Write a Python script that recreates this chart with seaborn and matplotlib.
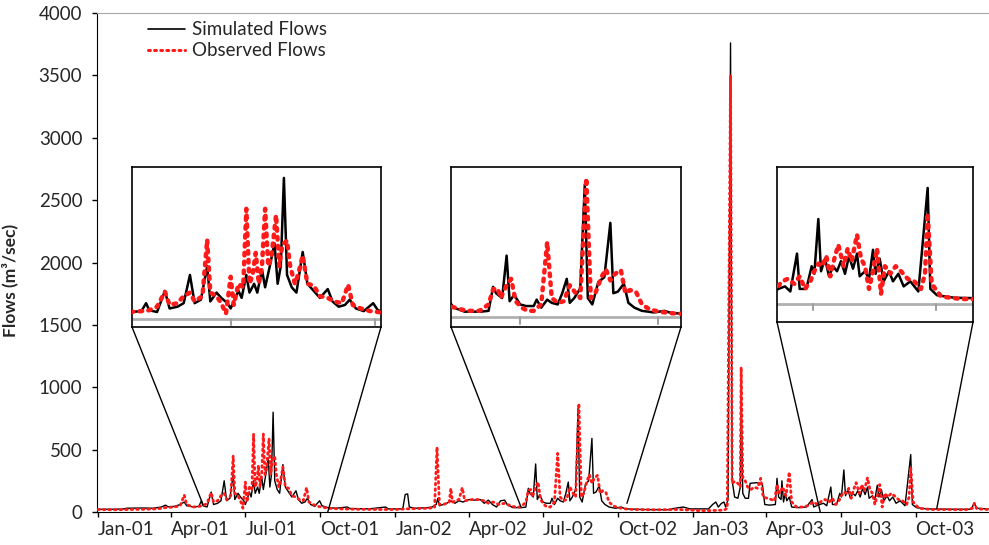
import matplotlib
matplotlib.use("Agg")
import matplotlib.pyplot as plt
import matplotlib.dates as mdates
from matplotlib.lines import Line2D
from matplotlib.patches import ConnectionPatch
import pandas as pd
import seaborn as sns

# ---- Simulated daily flows (m3/sec), sampled at the turning points ----
sim_dates = [
    "2001-01-01", "2001-01-20", "2001-02-01", "2001-02-05", "2001-02-25", "2001-03-10", "2001-03-20",
    "2001-03-25", "2001-03-28", "2001-04-05", "2001-04-12", "2001-04-17", "2001-04-20", "2001-04-28",
    "2001-05-05", "2001-05-08", "2001-05-10", "2001-05-15", "2001-05-20", "2001-05-23", "2001-05-28",
    "2001-06-01", "2001-06-05", "2001-06-08", "2001-06-12", "2001-06-16", "2001-06-18", "2001-06-22",
    "2001-06-25", "2001-06-29", "2001-07-01", "2001-07-03", "2001-07-06", "2001-07-08", "2001-07-11",
    "2001-07-13", "2001-07-16", "2001-07-18", "2001-07-21", "2001-07-23", "2001-07-26", "2001-07-29",
    "2001-07-31", "2001-08-02", "2001-08-04", "2001-08-06", "2001-08-09", "2001-08-12", "2001-08-16",
    "2001-08-19", "2001-08-23", "2001-08-27", "2001-09-01", "2001-09-04", "2001-09-08", "2001-09-12",
    "2001-09-15", "2001-09-19", "2001-09-24", "2001-09-30", "2001-10-03", "2001-10-10", "2001-10-20",
    "2001-11-03", "2001-11-06", "2001-11-30", "2001-12-20", "2001-12-23", "2001-12-31",
    "2002-01-10", "2002-01-13", "2002-01-16", "2002-01-18", "2002-01-25", "2002-02-10", "2002-02-15",
    "2002-02-20", "2002-02-22", "2002-02-24", "2002-03-05", "2002-03-10", "2002-03-15", "2002-03-20",
    "2002-03-25", "2002-04-01", "2002-04-08", "2002-04-15", "2002-04-20", "2002-04-25", "2002-04-30",
    "2002-05-05", "2002-05-10", "2002-05-15", "2002-05-18", "2002-05-25", "2002-06-05", "2002-06-10",
    "2002-06-13", "2002-06-15", "2002-06-19", "2002-06-22", "2002-06-24", "2002-06-27", "2002-07-01",
    "2002-07-05", "2002-07-10", "2002-07-12", "2002-07-15", "2002-07-19", "2002-07-22", "2002-07-26",
    "2002-07-29", "2002-08-01", "2002-08-03", "2002-08-06", "2002-08-10", "2002-08-13", "2002-08-15",
    "2002-08-18", "2002-08-22", "2002-08-26", "2002-08-30", "2002-09-01", "2002-09-04", "2002-09-08",
    "2002-09-11", "2002-09-15", "2002-09-20", "2002-09-28", "2002-10-05", "2002-10-10", "2002-11-01",
    "2002-12-01", "2002-12-10", "2002-12-20", "2002-12-28",
    "2003-01-05", "2003-01-20", "2003-01-25", "2003-01-29", "2003-02-01", "2003-02-05", "2003-02-08",
    "2003-02-10", "2003-02-13", "2003-02-16", "2003-02-18", "2003-02-21", "2003-02-25", "2003-02-28",
    "2003-03-01", "2003-03-03", "2003-03-06", "2003-03-10", "2003-03-12", "2003-03-20", "2003-03-27",
    "2003-03-30", "2003-04-05", "2003-04-12", "2003-04-14", "2003-04-16", "2003-04-19", "2003-04-20",
    "2003-04-22", "2003-04-24", "2003-04-26", "2003-04-29", "2003-05-02", "2003-05-10", "2003-05-20",
    "2003-05-27", "2003-05-29", "2003-06-05", "2003-06-10", "2003-06-14", "2003-06-19", "2003-06-21",
    "2003-06-26", "2003-06-30", "2003-07-02", "2003-07-05", "2003-07-07", "2003-07-10", "2003-07-13",
    "2003-07-16", "2003-07-19", "2003-07-22", "2003-07-25", "2003-07-28", "2003-07-31", "2003-08-03",
    "2003-08-05", "2003-08-09", "2003-08-12", "2003-08-15", "2003-08-17", "2003-08-20", "2003-08-23",
    "2003-08-27", "2003-08-30", "2003-09-03", "2003-09-07", "2003-09-12", "2003-09-18", "2003-09-25",
    "2003-09-27", "2003-10-02", "2003-10-15", "2003-11-15", "2003-12-08", "2003-12-12", "2003-12-15",
    "2003-12-29",
]
sim_flows = [
    22, 22, 24, 30, 32, 30, 40,
    55, 42, 45, 60, 80, 50, 40,
    45, 90, 50, 40, 160, 60, 70,
    90, 250, 90, 110, 300, 100, 150,
    120, 90, 60, 100, 160, 120, 250,
    150, 200, 150, 280, 180, 300, 430,
    200, 300, 800, 250, 180, 150, 380,
    200, 160, 120, 170, 100, 70, 80,
    110, 60, 45, 90, 50, 35, 30,
    40, 28, 25, 40, 25, 25,
    25, 140, 145, 40, 30, 35, 40,
    60, 110, 50, 70, 90, 70, 90,
    80, 100, 95, 100, 70, 95, 60,
    40, 90, 95, 60, 35, 35, 40,
    190, 150, 120, 385, 100, 140, 80,
    70, 70, 110, 60, 110, 90, 80,
    150, 240, 90, 120, 180, 830, 120,
    80, 220, 250, 590, 150, 160, 210,
    90, 60, 40, 30, 40, 25, 20,
    18, 30, 40, 25,
    25, 25, 60, 80, 40, 70, 80,
    40, 100, 3760, 250, 120, 110, 200,
    950, 150, 110, 110, 230, 235, 225,
    60, 55, 60, 270, 120, 100, 250,
    80, 150, 90, 120, 40, 35, 40,
    100, 40, 60, 70, 50, 200, 60,
    60, 150, 120, 337, 130, 180, 110,
    150, 130, 170, 120, 190, 140, 200,
    110, 130, 100, 215, 120, 180, 90,
    130, 90, 120, 70, 90, 50, 460,
    60, 35, 25, 22, 22, 72, 30,
    25,
]

# ---- Observed daily flows (m3/sec) ----
obs_dates = [
    "2001-01-01", "2001-01-20", "2001-02-10", "2001-03-01", "2001-03-15", "2001-03-25", "2001-04-05",
    "2001-04-12", "2001-04-17", "2001-04-20", "2001-04-28", "2001-05-05", "2001-05-10", "2001-05-15",
    "2001-05-20", "2001-05-23", "2001-05-28", "2001-06-01", "2001-06-05", "2001-06-08", "2001-06-13",
    "2001-06-16", "2001-06-18", "2001-06-22", "2001-06-25", "2001-06-28", "2001-07-01", "2001-07-03",
    "2001-07-06", "2001-07-09", "2001-07-11", "2001-07-13", "2001-07-15", "2001-07-17", "2001-07-19",
    "2001-07-21", "2001-07-23", "2001-07-25", "2001-07-27", "2001-07-30", "2001-08-01", "2001-08-03",
    "2001-08-06", "2001-08-08", "2001-08-11", "2001-08-13", "2001-08-16", "2001-08-19", "2001-08-23",
    "2001-08-27", "2001-09-01", "2001-09-05", "2001-09-10", "2001-09-14", "2001-09-17", "2001-09-22",
    "2001-09-28", "2001-10-03", "2001-10-10", "2001-10-25", "2001-11-15", "2001-12-15", "2001-12-31",
    "2002-01-15", "2002-02-10", "2002-02-18", "2002-02-21", "2002-02-24", "2002-03-01", "2002-03-08",
    "2002-03-10", "2002-03-12", "2002-03-20", "2002-03-24", "2002-03-27", "2002-04-05", "2002-04-12",
    "2002-04-20", "2002-04-25", "2002-05-01", "2002-05-08", "2002-05-15", "2002-05-22", "2002-05-28",
    "2002-06-04", "2002-06-10", "2002-06-13", "2002-06-16", "2002-06-18", "2002-06-22", "2002-06-25",
    "2002-06-28", "2002-07-02", "2002-07-06", "2002-07-10", "2002-07-15", "2002-07-19", "2002-07-22",
    "2002-07-26", "2002-07-30", "2002-08-03", "2002-08-07", "2002-08-10", "2002-08-14", "2002-08-17",
    "2002-08-20", "2002-08-24", "2002-08-27", "2002-08-30", "2002-09-02", "2002-09-06", "2002-09-09",
    "2002-09-12", "2002-09-16", "2002-09-20", "2002-09-25", "2002-10-01", "2002-10-10", "2002-10-20",
    "2002-11-15", "2002-12-15", "2002-12-31",
    "2003-01-10", "2003-01-25", "2003-02-08", "2003-02-12", "2003-02-16", "2003-02-18", "2003-02-21",
    "2003-02-25", "2003-02-28", "2003-03-01", "2003-03-03", "2003-03-06", "2003-03-09", "2003-03-13",
    "2003-03-17", "2003-03-21", "2003-03-25", "2003-03-28", "2003-04-02", "2003-04-07", "2003-04-11",
    "2003-04-14", "2003-04-17", "2003-04-21", "2003-04-25", "2003-04-29", "2003-05-02", "2003-05-08",
    "2003-05-15", "2003-05-22", "2003-05-28", "2003-06-03", "2003-06-08", "2003-06-12", "2003-06-17",
    "2003-06-21", "2003-06-25", "2003-06-29", "2003-07-02", "2003-07-05", "2003-07-08", "2003-07-11",
    "2003-07-14", "2003-07-17", "2003-07-20", "2003-07-24", "2003-07-27", "2003-07-30", "2003-08-03",
    "2003-08-06", "2003-08-09", "2003-08-12", "2003-08-15", "2003-08-18", "2003-08-21", "2003-08-24",
    "2003-08-28", "2003-09-01", "2003-09-05", "2003-09-10", "2003-09-15", "2003-09-20", "2003-09-23",
    "2003-09-25", "2003-09-28", "2003-10-05", "2003-10-20", "2003-11-10", "2003-12-01", "2003-12-10",
    "2003-12-12", "2003-12-15", "2003-12-29",
]
obs_flows = [
    20, 18, 20, 22, 25, 35, 40,
    50, 136, 60, 40, 45, 50, 70,
    155, 80, 90, 130, 150, 100, 130,
    450, 150, 130, 90, 30, 240, 80,
    200, 180, 625, 200, 250, 375, 200,
    300, 625, 300, 350, 590, 300, 420,
    445, 300, 200, 250, 360, 200, 190,
    130, 120, 100, 90, 195, 80, 60,
    45, 40, 30, 25, 22, 20, 20,
    25, 30, 35, 520, 60, 60, 80,
    190, 80, 100, 195, 90, 100, 100,
    90, 70, 80, 60, 70, 50, 40,
    40, 80, 175, 180, 120, 200, 240,
    100, 60, 40, 40, 80, 470, 120,
    90, 100, 200, 150, 120, 870, 120,
    150, 250, 300, 230, 270, 295, 150,
    170, 160, 80, 50, 35, 25, 20,
    18, 20, 15,
    10, 12, 15, 30, 3500, 230, 245,
    230, 200, 1160, 280, 250, 200, 180,
    200, 190, 270, 120, 110, 100, 90,
    220, 150, 200, 130, 320, 80, 40,
    40, 50, 80, 60, 90, 100, 80,
    110, 60, 90, 130, 160, 150, 190,
    110, 180, 235, 150, 220, 170, 275,
    180, 150, 60, 130, 220, 40, 150,
    120, 150, 130, 100, 90, 60, 120,
    360, 80, 30, 20, 20, 18, 30,
    70, 25, 20,
]

y_ticks = [0, 500, 1000, 1500, 2000, 2500, 3000, 3500, 4000]
series_names = ["Simulated Flows", "Observed Flows"]

# zoomed windows: (start, end, y-limits, connector start, connector end)
zoom_windows = [
    ("2001-04-29", "2001-10-05", (-45, 862), ("2001-05-10", 60), ("2001-10-10", 0)),
    ("2002-05-16", "2002-10-16", (-61, 939), ("2002-06-04", 40), ("2002-10-12", 70)),
    ("2003-06-04", "2003-10-29", (-71, 543), ("2003-06-06", 0), ("2003-10-27", 30)),
]
zoom_boxes = [
    [132 / 989, 218 / 545, 249 / 989, 160 / 545],
    [451 / 989, 218 / 545, 230 / 989, 160 / 545],
    [777 / 989, 223 / 545, 196 / 989, 155 / 545],
]

sim = pd.DataFrame({"date": pd.to_datetime(sim_dates), "flow": sim_flows})
obs = pd.DataFrame({"date": pd.to_datetime(obs_dates), "flow": obs_flows})

sns.set_style("ticks")
plt.rcParams["font.family"] = ["Lato", "DejaVu Sans"]

RED = "#ff1a1a"
DOTS = (0, (0.6, 1.4))
fig = plt.figure(figsize=(9.89, 5.45), dpi=100)
ax = fig.add_axes([97 / 989, 33 / 545, 892 / 989, 499 / 545])


def draw_series(target, sim_lw, obs_lw):
    sns.lineplot(data=sim, x="date", y="flow", ax=target, color="black",
                 linewidth=sim_lw, estimator=None, sort=False, zorder=3)
    sns.lineplot(data=obs, x="date", y="flow", ax=target, color=RED,
                 linewidth=obs_lw, linestyle=DOTS, dash_capstyle="round",
                 estimator=None, sort=False, zorder=4)


draw_series(ax, 1.0, 2.0)
ax.set_ylim(0, 4000)
ax.set_xlim(pd.Timestamp("2000-12-31"), pd.Timestamp("2003-12-30"))
ax.set_yticks(y_ticks)
ax.xaxis.set_major_locator(mdates.MonthLocator(bymonth=[1, 4, 7, 10]))
ax.xaxis.set_major_formatter(mdates.DateFormatter("%b-%y"))
ax.tick_params(axis="both", labelsize=13.5, length=3.6, width=1, color="black", direction="out")
ax.tick_params(axis="y", pad=7)
ax.tick_params(axis="x", pad=3)
for lab in ax.get_xticklabels():
    lab.set_horizontalalignment("left")
ax.set_xlabel("")
ax.set_ylabel("Flows (m³/sec)", fontsize=12.5, fontweight="bold")
ax.yaxis.set_label_coords(-0.0886, 0.465)
ax.spines["left"].set_color("black")
ax.spines["bottom"].set_color("black")
ax.spines["top"].set_color("#a6a6a6")
ax.spines["right"].set_visible(False)

handles = [Line2D([], [], color="black", lw=1.2),
           Line2D([], [], color=RED, lw=2.2, linestyle=DOTS, dash_capstyle="round")]
ax.legend(handles, series_names, loc="upper left", bbox_to_anchor=(0.057, 0.983),
          borderaxespad=0, borderpad=0, frameon=False, fontsize=13.5, handlelength=2.0,
          handletextpad=0.37, labelspacing=0.2)

# magnified views of the three wet seasons
for (start, end, ylim, c_left, c_right), box in zip(zoom_windows, zoom_boxes):
    ins = fig.add_axes(box)
    ins.set_facecolor("white")
    ins.axhline(0, color="#b0b0b0", lw=2, zorder=1)
    yr = start[:4]
    span = ylim[1] - ylim[0]
    for m in ("07-01", "10-01"):
        d = pd.Timestamp(f"{yr}-{m}")
        ins.plot([d, d], [0, -0.04 * span], color="#a0a0a0", lw=1.5, zorder=1)
    draw_series(ins, 1.8, 3.2)
    ins.set_xlim(pd.Timestamp(start), pd.Timestamp(end))
    ins.set_ylim(*ylim)
    ins.set_xticks([])
    ins.set_yticks([])
    ins.set_xlabel("")
    ins.set_ylabel("")
    for s in ins.spines.values():
        s.set_visible(True)
        s.set_color("black")
        s.set_linewidth(1.2)
    for corner, (cd, cv) in ((0, c_left), (1, c_right)):
        con = ConnectionPatch(xyA=(corner, 0), coordsA=ins.transAxes,
                              xyB=(mdates.date2num(pd.Timestamp(cd)), cv), coordsB=ax.transData,
                              color="black", lw=1.0, zorder=5)
        fig.add_artist(con)

fig.savefig("out.png", dpi=100)
